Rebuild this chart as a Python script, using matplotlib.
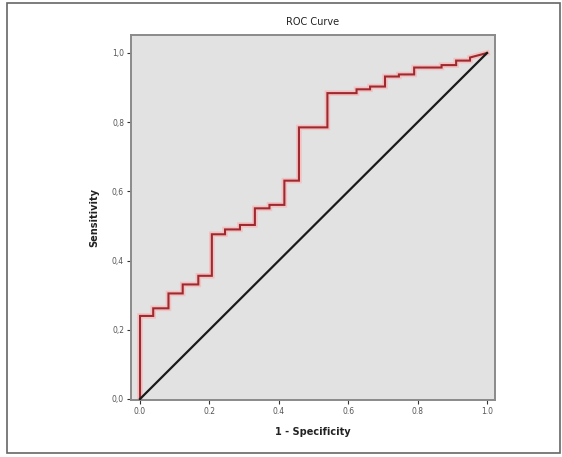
import numpy as np
import matplotlib
matplotlib.use("Agg")
import matplotlib.pyplot as plt
from matplotlib.patches import Rectangle

# ROC step points (1 - specificity, sensitivity)
fpr = [0.0, 0.0, 0.038, 0.038, 0.082, 0.082, 0.123, 0.123, 0.168, 0.168,
       0.207, 0.207, 0.245, 0.245, 0.288, 0.288, 0.331, 0.331, 0.373, 0.373,
       0.416, 0.416, 0.458, 0.458, 0.540, 0.540, 0.624, 0.624, 0.663, 0.663,
       0.706, 0.706, 0.746, 0.746, 0.790, 0.790, 0.869, 0.869, 0.911, 0.911,
       0.951, 0.951, 1.0]
tpr = [0.0, 0.240, 0.240, 0.262, 0.262, 0.305, 0.305, 0.331, 0.331, 0.356,
       0.356, 0.476, 0.476, 0.490, 0.490, 0.503, 0.503, 0.551, 0.551, 0.561,
       0.561, 0.631, 0.631, 0.785, 0.785, 0.884, 0.884, 0.895, 0.895, 0.903,
       0.903, 0.932, 0.932, 0.938, 0.938, 0.958, 0.958, 0.965, 0.965, 0.978,
       0.978, 0.987, 1.0]
ref_line = [0.0, 1.0]
x_ticks = [0.0, 0.2, 0.4, 0.6, 0.8, 1.0]
x_labels = ["0.0", "0.2", "0.4", "0.6", "0.8", "1.0"]
y_ticks = [0.0, 0.2, 0.4, 0.6, 0.8, 1.0]
y_labels = ["0,0", "0,2", "0,4", "0,6", "0,8", "1,0"]

fig = plt.figure(figsize=(5.62, 4.57), dpi=100)
fig.patch.set_facecolor("white")

# outer frame around the whole chart
fig.patches.append(Rectangle((7 / 562, 1 - 453 / 457), 553 / 562, 450 / 457,
                             transform=fig.transFigure, fill=False,
                             edgecolor="#666666", linewidth=1.2))

ax = fig.add_axes([131 / 562, 1 - 400 / 457, 364 / 562, 365 / 457])
ax.set_facecolor("#e2e2e2")

# soft pink halo under the red step line
ax.plot(fpr, tpr, color="#f2c2c2", linewidth=4.0, solid_joinstyle="miter", zorder=2)
ax.plot(fpr, tpr, color="#9e2a30", linewidth=1.5, solid_joinstyle="miter", zorder=3)
ax.plot(ref_line, ref_line, color="#1a1a1a", linewidth=1.6, zorder=4)

ax.set_xlim(-0.026, 1.023)
ax.set_ylim(-0.003, 1.052)
ax.set_xticks(x_ticks)
ax.set_xticklabels(x_labels)
ax.set_yticks(y_ticks)
ax.set_yticklabels(y_labels)
ax.tick_params(axis="both", direction="out", length=3, width=0.8,
               color="#333333", labelsize=5.5, labelcolor="#555555", pad=2)

for side in ax.spines.values():
    side.set_edgecolor("#8a8a8a")
    side.set_linewidth(1.4)

ax.set_title("ROC Curve", fontsize=7, color="#222222", pad=7)
ax.set_xlabel("1 - Specificity", fontsize=7, fontweight="bold", color="#222222", labelpad=8)
ax.set_ylabel("Sensitivity", fontsize=7, fontweight="bold", color="#222222", labelpad=9)

fig.savefig("out.png", dpi=100)
